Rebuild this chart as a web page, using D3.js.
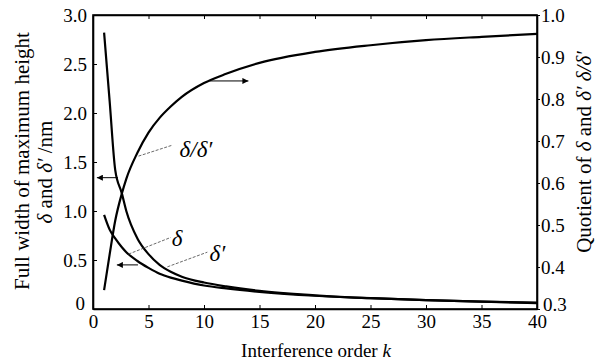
<!DOCTYPE html>
<html>
<head>
<meta charset="utf-8">
<script src="https://cdn.jsdelivr.net/npm/d3@7"></script>
<style>
  body { margin: 0; background: #fff; }
  svg { font-family: "Liberation Serif", "Times New Roman", serif; }
  .tick text { font-size: 19px; fill: #000; }
  .tick line, .domain { stroke: #000; }
</style>
</head>
<body>
<div id="chart-area"></div>
<script>
var serif = "'Liberation Serif', 'Times New Roman', serif";

// interference order k
var kValues = [1, 1.5, 2, 2.6, 3, 4, 5, 6, 7, 8, 10, 12, 15, 20, 25, 30, 35, 40];
// full width of maximum height (nm)
var deltaValues  = [0.96, 0.81, 0.72, 0.63, 0.58, 0.49, 0.42, 0.36, 0.32, 0.29, 0.24, 0.21, 0.175, 0.135, 0.11, 0.09, 0.075, 0.06];
var deltaPValues = [2.82, 2.12, 1.42, 1.18, 1.00, 0.72, 0.56, 0.45, 0.38, 0.33, 0.27, 0.23, 0.185, 0.14, 0.11, 0.09, 0.075, 0.065];
// quotient delta / delta'
var ratioValues  = [0.345, 0.43, 0.51, 0.575, 0.61, 0.672, 0.72, 0.755, 0.782, 0.805, 0.838, 0.86, 0.886, 0.912, 0.928, 0.94, 0.948, 0.955];

var xTicks = [0, 5, 10, 15, 20, 25, 30, 35, 40];
var yLeftTicks = [0, 0.5, 1.0, 1.5, 2.0, 2.5, 3.0];
var yRightTicks = [0.3, 0.4, 0.5, 0.6, 0.7, 0.8, 0.9, 1.0];

var W = 601, H = 363;
var plot = {left: 93, right: 537, top: 15, bottom: 309};

var svg = d3.select("#chart-area")
    .append("svg")
    .attr("width", W)
    .attr("height", H)
    .attr("font-family", serif);

var x = d3.scaleLinear().domain([0, 40]).range([plot.left, plot.right]);
var yL = d3.scaleLinear().domain([0, 3]).range([plot.bottom, plot.top]);
var yR = d3.scaleLinear().domain([0.3, 1.0]).range([plot.bottom, plot.top]);

// axes
svg.append("g")
    .attr("transform", "translate(0," + plot.bottom + ")")
    .call(d3.axisBottom(x).tickValues(xTicks).tickSizeInner(-4).tickSizeOuter(0).tickPadding(6)
        .tickFormat(d3.format("d")));

svg.append("g")
    .attr("transform", "translate(0," + plot.top + ")")
    .call(d3.axisTop(x).tickValues(xTicks).tickSizeInner(-4).tickSizeOuter(0).tickFormat(""));

var leftAxis = svg.append("g")
    .attr("transform", "translate(" + plot.left + ",0)")
    .call(d3.axisLeft(yL).tickValues(yLeftTicks).tickSizeInner(-4).tickSizeOuter(0).tickPadding(6)
        .tickFormat(function(d) { return d === 0 ? "0" : d3.format(".1f")(d); }));
leftAxis.selectAll(".tick text").filter(function(d) { return d === 0; })
    .attr("dy", "0.05em").attr("x", -8);

var rightAxis = svg.append("g")
    .attr("transform", "translate(" + plot.right + ",0)")
    .call(d3.axisRight(yR).tickValues(yRightTicks).tickSizeInner(3).tickSizeOuter(0).tickPadding(1)
        .tickFormat(d3.format(".1f")));
rightAxis.selectAll(".tick text").filter(function(d) { return d === 0.3; })
    .attr("dy", "0.1em").attr("x", 6);

// d3 axes put a sans-serif font on their groups; use the serif face instead
svg.selectAll("g").attr("font-family", serif).attr("font-size", 19);

svg.selectAll(".domain").attr("stroke-width", 1.6);

svg.append("rect")
    .attr("x", plot.left).attr("y", plot.top)
    .attr("width", plot.right - plot.left).attr("height", plot.bottom - plot.top)
    .attr("fill", "none").attr("stroke", "#000").attr("stroke-width", 1.6);

// curves
var lineL = d3.line().x(function(d) { return x(d[0]); }).y(function(d) { return yL(d[1]); })
    .curve(d3.curveMonotoneX);
var lineR = d3.line().x(function(d) { return x(d[0]); }).y(function(d) { return yR(d[1]); })
    .curve(d3.curveMonotoneX);

function pairs(vals) { return kValues.map(function(k, i) { return [k, vals[i]]; }); }

svg.append("path").datum(pairs(deltaValues)).attr("d", lineL)
    .attr("fill", "none").attr("stroke", "#000").attr("stroke-width", 2.2);
svg.append("path").datum(pairs(deltaPValues)).attr("d", lineL)
    .attr("fill", "none").attr("stroke", "#000").attr("stroke-width", 2.2);
svg.append("path").datum(pairs(ratioValues)).attr("d", lineR)
    .attr("fill", "none").attr("stroke", "#000").attr("stroke-width", 2.2);

// arrows
var defs = svg.append("defs");
defs.append("marker")
    .attr("id", "head")
    .attr("viewBox", "0 0 10 10")
    .attr("refX", 10).attr("refY", 5)
    .attr("markerWidth", 8).attr("markerHeight", 6)
    .attr("markerUnits", "userSpaceOnUse")
    .attr("orient", "auto")
    .append("path").attr("d", "M0,0 L10,5 L0,10 Z").attr("fill", "#000");

var arrows = [
    {x1: 2.25, y1: 1.34, x2: 0.35, y2: 1.34, axis: "L"},
    {x1: 4.05, y1: 0.45, x2: 2.15, y2: 0.45, axis: "L"},
    {x1: 10.5, y1: 0.843, x2: 14.0, y2: 0.843, axis: "R"}
];
arrows.forEach(function(a) {
    var ys = a.axis === "L" ? yL : yR;
    svg.append("line")
        .attr("x1", x(a.x1)).attr("y1", ys(a.y1))
        .attr("x2", x(a.x2)).attr("y2", ys(a.y2))
        .attr("stroke", "#000").attr("stroke-width", 1)
        .attr("marker-end", "url(#head)");
});

// leader lines
var leaders = [
    {x1: 4.1, y1: 1.56, x2: 7.1, y2: 1.67},
    {x1: 3.2, y1: 0.56, x2: 7.0, y2: 0.73},
    {x1: 6.7, y1: 0.43, x2: 10.3, y2: 0.58}
];
leaders.forEach(function(l) {
    svg.append("line")
        .attr("x1", x(l.x1)).attr("y1", yL(l.y1))
        .attr("x2", x(l.x2)).attr("y2", yL(l.y2))
        .attr("stroke", "#444").attr("stroke-width", 0.8)
        .attr("stroke-dasharray", "3,1.5");
});

// curve labels
var labels = [
    {k: 7.8, v: 1.55, t: "δ/δ′"},
    {k: 7.1, v: 0.64, t: "δ"},
    {k: 10.5, v: 0.49, t: "δ′"}
];
labels.forEach(function(l) {
    svg.append("text")
        .attr("x", x(l.k)).attr("y", yL(l.v))
        .attr("font-size", 23).attr("font-style", "italic")
        .text(l.t);
});

// axis titles
svg.append("text")
    .attr("x", (plot.left + plot.right) / 2 + 1).attr("y", 357)
    .attr("text-anchor", "middle").attr("font-size", 19)
    .html('Interference order <tspan font-style="italic">k</tspan>');

svg.append("text")
    .attr("transform", "translate(29,161) rotate(-90)")
    .attr("text-anchor", "middle").attr("font-size", 21)
    .text("Full width of maximum height");

svg.append("text")
    .attr("transform", "translate(52,172) rotate(-90)")
    .attr("text-anchor", "middle").attr("font-size", 21)
    .html('<tspan font-style="italic">δ</tspan> and <tspan font-style="italic">δ′</tspan> /nm');

svg.append("text")
    .attr("transform", "translate(591,152) rotate(-90)")
    .attr("text-anchor", "middle").attr("font-size", 21)
    .html('Quotient of <tspan font-style="italic">δ</tspan> and <tspan font-style="italic">δ′ δ/δ′</tspan>');
</script>
</body>
</html>
